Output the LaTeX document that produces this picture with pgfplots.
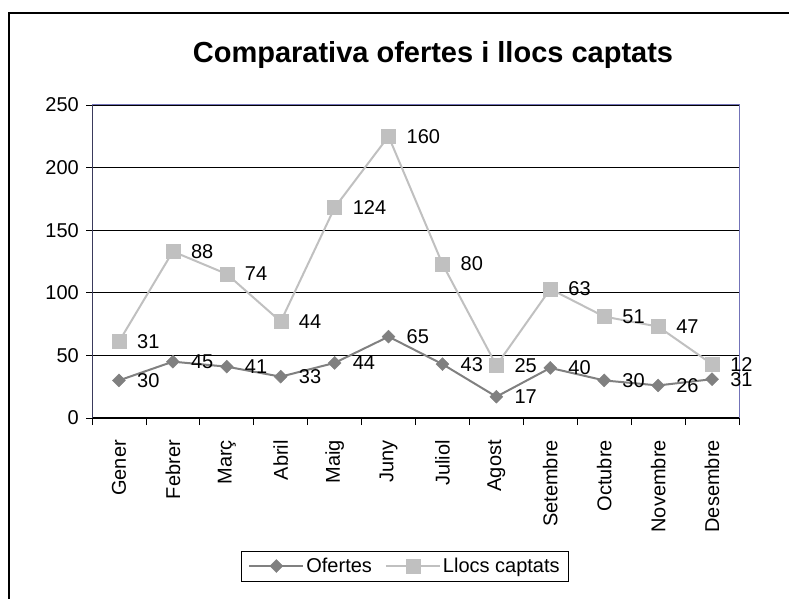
\documentclass[border=0pt]{standalone}
\usepackage{pgfplots}
\pgfplotsset{compat=1.18}
\usepackage{pgfplotstable}
\usepackage{fontspec}
\setmainfont{Liberation Sans}
\definecolor{ofc}{HTML}{808080}
\definecolor{llc}{HTML}{C0C0C0}
\definecolor{pab}{HTML}{7373B8}
\definecolor{yax}{HTML}{3A3A5C}
\pgfplotstableread{
x ofertes llocs
1 30 31
2 45 88
3 41 74
4 33 44
5 44 124
6 65 160
7 43 80
8 17 25
9 40 63
10 30 51
11 26 47
12 31 12
}\datatable
\newcommand\fs{\fontsize{20}{24}\selectfont}
\begin{document}
\begin{tikzpicture}[x=1pt,y=1pt]
\path[use as bounding box] (0,0) rectangle (789,599);
\draw[line width=2pt] (9,-5) -- (9,586) -- (800,586);
\node[font=\fontsize{29}{34}\selectfont\bfseries, anchor=base] at (433,536) {Comparativa ofertes i llocs captats};
\begin{axis}[
  at={(92pt,181pt)}, anchor=south west,
  width=647pt, height=313pt, scale only axis,
  xmin=0.5, xmax=12.5, ymin=0, ymax=250,
  ytick={0,50,...,250},
  yticklabels={0,50,100,150,200,250},
  xtick={1,...,12},
  xticklabels={Gener,Febrer,Març,Abril,Maig,Juny,Juliol,Agost,Setembre,Octubre,Novembre,Desembre},
  minor xtick={0.5,1.5,...,12.5},
  tick align=outside, major tick length=6pt, minor tick length=7pt,
  major x tick style={draw=none},
  tick style={black, line width=0.8pt},
  axis x line*=bottom, axis y line*=left,
  x axis line style={black, line width=1pt, -},
  y axis line style={yax, line width=1pt, -},
  ymajorgrids, grid style={black, line width=0.8pt},
  /pgf/number format/assume math mode=true,
  xticklabel style={font=\fs, rotate=90, anchor=east, inner sep=0pt},
  yticklabel style={font=\fs, inner sep=0pt},
  xticklabel shift=16pt,
  yticklabel shift=7pt,
  stack plots=y,
  clip=false,
  legend columns=2,
  legend image code/.code={\draw[mark repeat=2,mark phase=2] plot coordinates {(0pt,0pt) (27pt,0pt) (54pt,0pt)};},
  legend style={at={(0.4838,-0.473)}, anchor=center, draw=black, line width=0.8pt, font=\fs,
    inner xsep=7pt, inner ysep=5pt,
    /tikz/every even column/.append style={column sep=11pt}},
  nodes near coords,
  nodes near coords style={anchor=west, inner sep=0pt, xshift=18pt, font=\fs, text=black},
]
\addplot[ofc, line width=2pt, mark=diamond*, mark size=6.5pt,
  mark options={solid, xscale=1.333, fill=ofc, draw=ofc, line width=0.4pt},
  point meta=explicit] table[x=x, y=ofertes, meta=ofertes] {\datatable};
\addlegendentry{Ofertes}
\addplot[llc, line width=2pt, mark=square*, mark size=7pt,
  mark options={solid, fill=llc, draw=llc, line width=0.4pt},
  point meta=explicit] table[x=x, y=llocs, meta=llocs] {\datatable};
\addlegendentry{Llocs captats}
\draw[pab, line width=1pt] (rel axis cs:0,1) -- (rel axis cs:1,1) -- (rel axis cs:1,0);
\end{axis}
\end{tikzpicture}
\end{document}
